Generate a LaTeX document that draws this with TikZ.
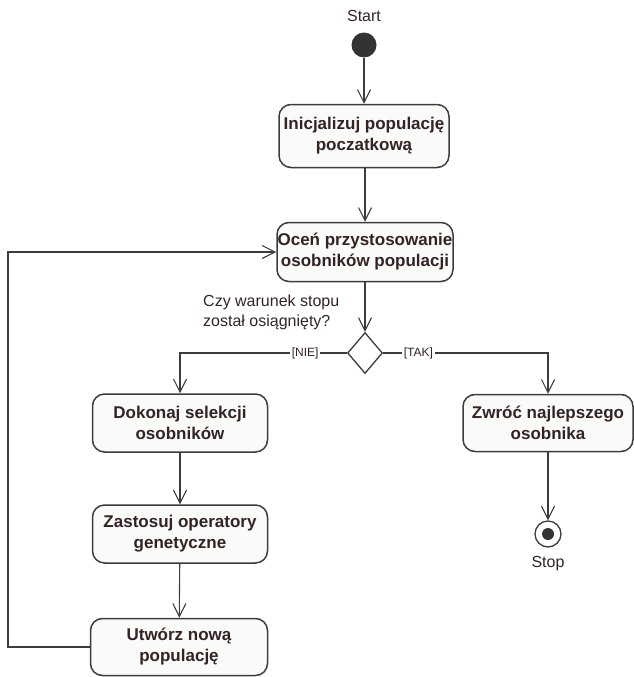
\documentclass[tikz,border=0pt]{standalone}
\usepackage{fontspec}
\setmainfont{Liberation Sans}
\usetikzlibrary{arrows.meta,shapes.geometric,positioning}
\definecolor{linia}{RGB}{60,60,60}
\definecolor{tekst}{RGB}{50,36,36}
\definecolor{wypelnienie}{RGB}{250,250,248}
\tikzset{
  >={Straight Barb[length=13pt,width=13pt]},
  akcja/.style={rectangle, rounded corners=12pt, draw=linia, line width=1.5pt, fill=wypelnienie,
                text=tekst, font=\bfseries\fontsize{17}{21}\selectfont, align=center,
                minimum width=175pt, minimum height=58pt, inner sep=0pt},
  decyzja/.style={diamond, draw=linia, line width=1.3pt, fill=white,
                  minimum width=35pt, minimum height=41pt, inner sep=0pt},
  przejscie/.style={draw=linia, line width=1.1pt, ->},
  opis/.style={text=tekst, font=\fontsize{16}{20}\selectfont, align=left, inner sep=1pt},
  warunek/.style={fill=white, text=tekst, font=\fontsize{12}{14}\selectfont, inner sep=2pt}
}

\begin{document}
\begin{tikzpicture}[x=1pt,y=-1pt]
      \useasboundingbox (0,0) rectangle (633,677);

      % Start point.
      \node[circle, fill=linia!85!black, minimum size=25pt, inner sep=0pt] (start) at (364,45) {};
      \node[opis, above=9pt of start] (startlbl) {Start};

      % Actions of the main column.
      \node[akcja, minimum width=170pt, minimum height=63pt] (init) at (364,136)
      {Inicjalizuj populację\\poczatkową};
      \node[akcja, minimum width=176pt, minimum height=59pt] (ocen) at (365,252)
      {Oceń przystosowanie\\osobników populacji};

      % Decision.
      \node[decyzja] (dec) at (365,353) {};
      \node[opis, anchor=west] (pytanie) at (202,312) {Czy warunek stopu\\został osiągnięty?};

      % Left branch.
      \node[akcja] (sel) at (180,423) {Dokonaj selekcji\\osobników};
      \node[akcja] (zast) at (180,534) {Zastosuj operatory\\genetyczne};
      \node[akcja, minimum width=177pt, minimum height=57pt] (utworz) at (179,647)
      {Utwórz nową\\populację};

      % Right branch.
      \node[akcja, minimum width=170pt, minimum height=57pt] (zwroc) at (548,423)
      {Zwróć najlepszego\\osobnika};
      \node[circle, draw=linia, line width=1.3pt, fill=white, minimum size=26pt, inner sep=0pt]
      (stop) at (548,534) {};
      \node[circle, fill=linia!85!black, minimum size=12pt, inner sep=0pt] (stopin) at (stop) {};
      \node[opis, below=7pt of stop] (stoplbl) {Stop};

      % Transitions.
      \draw[przejscie] (start) -- (init);
      \draw[przejscie] (init.south -| ocen) -- (ocen);
      \draw[przejscie] (ocen) -- (dec);
      \draw[przejscie] (dec.west) -| node[warunek, pos=0.125] {[NIE]} (sel.north);
      \draw[przejscie] (dec.east) -| node[warunek, pos=0.107] {[TAK]} (zwroc.north);
      \draw[przejscie] (sel) -- (zast);
      \draw[przejscie] (zast) -- (utworz);
      \draw[przejscie] (zwroc) -- (stop);

      % Loop back to evaluation.
      \coordinate (petla) at (8,647);
      \draw[przejscie] (utworz.west) -- (petla) |- (ocen.west);

\end{tikzpicture}
\end{document}
